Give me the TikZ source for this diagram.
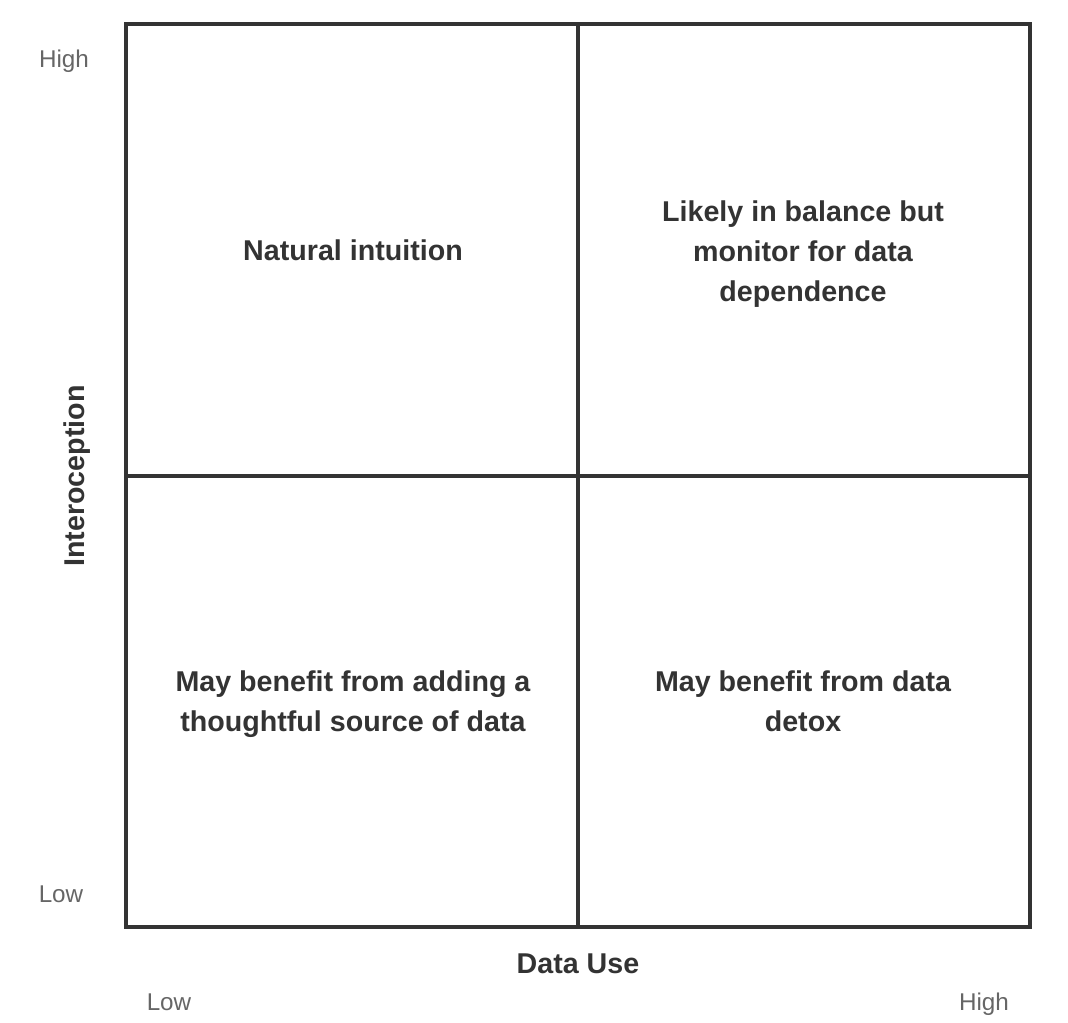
\documentclass[tikz,border=0pt]{standalone}
\usepackage{fontspec}
\setmainfont{Liberation Sans}
\usetikzlibrary{positioning}

\definecolor{gridline}{HTML}{333333}
\definecolor{ticktext}{HTML}{666666}

\begin{document}
\begin{tikzpicture}[
    x=0.02cm, y=-0.02cm,
    quad/.style={align=center, font=\fontsize{16.3}{22.7}\selectfont\bfseries, text=gridline},
    axis title/.style={font=\fontsize{16.3}{20}\selectfont\bfseries, text=gridline},
    tick text/.style={anchor=base, font=\fontsize{13.8}{16}\selectfont, text=ticktext}
]
\useasboundingbox (0,0) rectangle (1068,1022);

% Grid
\coordinate (NW) at (126, 24);
\coordinate (SE) at (1030, 927);
\coordinate (Top) at (578, 24);
\coordinate (Bottom) at (578, 927);
\coordinate (Left) at (126, 476);
\coordinate (Right) at (1030, 476);

\draw[gridline, line width=1.8pt] (NW) rectangle (SE);
\draw[gridline, line width=1.8pt] (Top) -- (Bottom);
\draw[gridline, line width=1.8pt] (Left) -- (Right);

% Quadrants
\node[quad] (LH) at (353, 250) {Natural intuition};
\node[quad] (HH) at (803, 254) {Likely in balance but\\monitor for data\\dependence};
\node[quad] (LL) at (353, 704) {May benefit from adding a\\thoughtful source of data};
\node[quad] (HL) at (803, 701) {May benefit from data\\detox};

% Axes
\node[axis title, rotate=90] (yTitle) at (77, 476) {Interoception};
\node[axis title] (xTitle) at (578, 964) {Data Use};

\node[tick text] (yHigh) at (64, 67) {High};
\node[tick text] (yLow) at (61, 902) {Low};
\node[tick text] (xLow) at (169, 1010) {Low};
\node[tick text] (xHigh) at (984, 1010) {High};

\end{tikzpicture}
\end{document}
